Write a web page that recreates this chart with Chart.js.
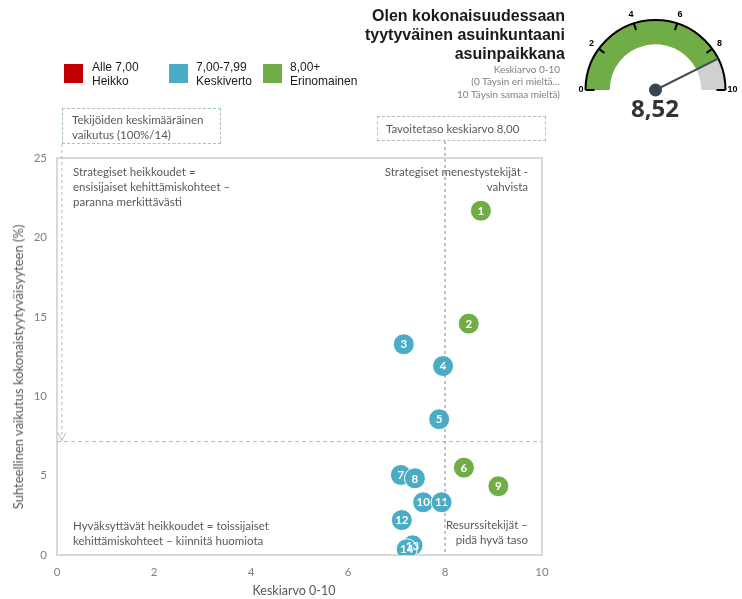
<!DOCTYPE html>
<html><head><meta charset="utf-8">
<script src="https://cdn.jsdelivr.net/npm/chart.js@4/dist/chart.umd.min.js"></script>
<style>
html,body{margin:0;padding:0;background:#fff;}
#wrap{position:relative;width:742px;height:599px;overflow:hidden;}
#main{position:absolute;left:0;top:0;}
#gauge{position:absolute;left:569px;top:0;}
.t{position:absolute;white-space:pre;}
.q{font-family:Lato,'Open Sans',sans-serif;font-size:11.5px;color:#595959;line-height:15px;}
.title{font-family:'Liberation Sans',Arial,sans-serif;font-weight:bold;font-size:16px;line-height:19px;color:#1a1a1a;text-align:right;}
.sub{font-family:Lato,sans-serif;font-size:10px;line-height:12.5px;color:#7f7f7f;text-align:right;}
.leg{font-family:'Liberation Sans',Arial,sans-serif;font-size:12px;line-height:14px;color:#1a1a1a;}
.sq{position:absolute;width:19px;height:19px;}
.box{position:absolute;border:1px dashed #a9c0ca;box-sizing:border-box;}
.ax{font-family:Lato,sans-serif;font-size:12.5px;color:#595959;}
</style></head>
<body>
<div id="wrap">
<canvas id="main" width="742" height="599"></canvas>
<canvas id="gauge" width="173" height="130"></canvas>

<div class="t title" style="right:177px;top:5.5px;">Olen kokonaisuudessaan
tyytyväinen asuinkuntaani
asuinpaikkana</div>
<div class="t sub" style="right:182px;top:62.75px;">Keskiarvo 0-10
(0 Täysin eri mieltä…
10 Täysin samaa mieltä)</div>

<div class="sq" style="left:64px;top:64px;background:#c00000;"></div>
<div class="t leg" style="left:92px;top:60px;">Alle 7,00
Heikko</div>
<div class="sq" style="left:169px;top:64px;background:#4bacc6;"></div>
<div class="t leg" style="left:196px;top:60px;">7,00-7,99
Keskiverto</div>
<div class="sq" style="left:263px;top:64px;background:#70ad47;"></div>
<div class="t leg" style="left:290px;top:60px;">8,00+
Erinomainen</div>

<div class="box" style="left:62px;top:108px;width:159px;height:36px;"></div>
<div class="t q" style="left:72px;top:111.5px;">Tekijöiden keskimääräinen
vaikutus (100%/14)</div>
<div class="box" style="left:377px;top:116px;width:169px;height:25px;"></div>
<div class="t q" style="left:386px;top:120.5px;">Tavoitetaso keskiarvo 8,00</div>

<div class="t q" style="left:73px;top:163.5px;">Strategiset heikkoudet =
ensisijaiset kehittämiskohteet –
paranna merkittävästi</div>
<div class="t q" style="right:214px;top:163.5px;text-align:right;">Strategiset menestystekijät -
vahvista</div>
<div class="t q" style="left:73px;top:517.5px;">Hyväksyttävät heikkoudet = toissijaiset
kehittämiskohteet – kiinnitä huomiota</div>
<div class="t q" style="right:214px;top:517px;text-align:right;">Resurssitekijät –
pidä hyvä taso</div>

<div class="t ax" style="left:294px;top:590px;transform:translate(-50%,-50%);">Keskiarvo 0-10</div>
<div class="t ax" style="left:18px;top:367px;font-size:13px;transform:translate(-50%,-50%) rotate(-90deg);">Suhteellinen vaikutus kokonaistyytyväisyyteen (%)</div>

<div class="t" id="gval" style="left:655px;top:108px;transform:translate(-50%,-50%);font-family:'Open Sans',sans-serif;font-weight:bold;font-size:24px;line-height:1;color:#333;">8,52</div>
</div>
<script>
// ---- data ----
const pointLabels = ['1','2','3','4','5','6','7','8','9','10','11','12','13','14'];
const meanScores = [8.74, 8.49, 7.15, 7.96, 7.88, 8.39, 7.09, 7.38, 9.10, 7.55, 7.93, 7.11, 7.33, 7.21];
const impacts    = [21.68, 14.57, 13.27, 11.90, 8.55, 5.50, 5.04, 4.83, 4.33, 3.32, 3.32, 2.20, 0.61, 0.36];
const xTicks = [0, 2, 4, 6, 8, 10];
const yTicks = [0, 5, 10, 15, 20, 25];
const targetScore = 8.00;
const avgImpact = 7.14;
const gaugeValue = 8.52;
const gaugeTicks = [0, 2, 4, 6, 8, 10];

const categoryColors = ['#c00000', '#4bacc6', '#70ad47'];
function colorFor(v){ return v < 7 ? categoryColors[0] : (v < 8 ? categoryColors[1] : categoryColors[2]); }

const overlay = {
  id: 'overlay',
  beforeDatasetsDraw(chart){
    const {ctx, chartArea:a} = chart;
    ctx.save();
    ctx.strokeStyle = '#d9d9d9'; ctx.lineWidth = 2;
    ctx.strokeRect(a.left, a.top, a.right - a.left, a.bottom - a.top);
    ctx.restore();
  },
  afterDatasetsDraw(chart){
    const {ctx, chartArea:a, scales:{x, y}} = chart;
    const meta = chart.getDatasetMeta(0);
    ctx.save();
    ctx.fillStyle = '#ffffff';
    ctx.font = 'bold 11.5px Lato, sans-serif';
    ctx.textAlign = 'center'; ctx.textBaseline = 'middle';
    meta.data.forEach((pt, i) => {
      ctx.fillText(pointLabels[i], pt.x, pt.y + 0.5);
    });
    const yAvg = y.getPixelForValue(avgImpact);
    const xT = x.getPixelForValue(targetScore);
    ctx.lineWidth = 1;
    ctx.setLineDash([4, 3]);
    ctx.strokeStyle = '#b8b8b8';
    ctx.beginPath(); ctx.moveTo(a.left, yAvg); ctx.lineTo(a.right, yAvg); ctx.stroke();
    ctx.setLineDash([3, 3]);
    ctx.strokeStyle = '#8a8a8a';
    ctx.beginPath(); ctx.moveTo(xT, 141); ctx.lineTo(xT, a.bottom); ctx.stroke();
    const xA = x.getPixelForValue(0.1);
    ctx.strokeStyle = '#a9c2cc';
    ctx.beginPath(); ctx.moveTo(xA, 144); ctx.lineTo(xA, yAvg - 1); ctx.stroke();
    ctx.setLineDash([]);
    ctx.beginPath(); ctx.moveTo(xA - 4, yAvg - 9); ctx.lineTo(xA, yAvg - 1); ctx.lineTo(xA + 4, yAvg - 9); ctx.stroke();
    ctx.restore();
  }
};

new Chart(document.getElementById('main'), {
  type: 'scatter',
  data: {
    datasets: [{
      data: meanScores.map((v, i) => ({x: v, y: impacts[i]})),
      backgroundColor: meanScores.map(colorFor),
      borderColor: '#ffffff',
      borderWidth: 1,
      pointRadius: 10.5,
      pointHoverRadius: 10.5
    }]
  },
  options: {
    responsive: false, animation: false,
    layout: {padding: {left: 0, right: 200, top: 158, bottom: 0}},
    plugins: {legend: {display: false}, tooltip: {enabled: false}},
    scales: {
      x: {
        type: 'linear', min: xTicks[0], max: xTicks[xTicks.length - 1],
        afterBuildTicks: s => { s.ticks = xTicks.map(v => ({value: v})); },
        ticks: {color: '#808080', font: {family: 'Lato', size: 11.5}, padding: 10},
        grid: {display: false, drawTicks: false},
        border: {display: false},
        afterFit: s => { s.height = 44; }
      },
      y: {
        type: 'linear', min: yTicks[0], max: yTicks[yTicks.length - 1],
        afterBuildTicks: s => { s.ticks = yTicks.map(v => ({value: v})); },
        ticks: {color: '#808080', font: {family: 'Lato', size: 11.5}, padding: 10},
        grid: {display: false, drawTicks: false},
        border: {display: false},
        afterFit: s => { s.width = 57; }
      }
    }
  },
  plugins: [overlay]
});

const gaugeDeco = {
  id: 'gaugeDeco',
  afterDatasetsDraw(chart){
    const {ctx} = chart;
    const arc = chart.getDatasetMeta(0).data[0];
    const cx = arc.x, cy = arc.y, r = arc.outerRadius;
    const maxV = gaugeTicks[gaugeTicks.length - 1];
    ctx.save();
    ctx.strokeStyle = '#000'; ctx.lineWidth = 2;
    ctx.beginPath(); ctx.arc(cx, cy, r, Math.PI, 2 * Math.PI); ctx.stroke();
    ctx.font = 'bold 9px "Liberation Sans", Arial, sans-serif';
    ctx.fillStyle = '#000';
    ctx.textBaseline = 'middle';
    gaugeTicks.forEach((v, i) => {
      const ang = Math.PI + (v / maxV) * Math.PI;
      const c = Math.cos(ang), s = Math.sin(ang);
      const inner = (i === 0 || i === gaugeTicks.length - 1) ? r - 9 : r - 7;
      ctx.beginPath(); ctx.moveTo(cx + c * inner, cy + s * inner); ctx.lineTo(cx + c * r, cy + s * r); ctx.stroke();
      if (i === 0) { ctx.textAlign = 'right'; ctx.fillText(String(v), cx - r - 2, cy); }
      else if (i === gaugeTicks.length - 1) { ctx.textAlign = 'left'; ctx.fillText(String(v), cx + r + 2, cy); }
      else { ctx.textAlign = 'center'; ctx.fillText(String(v), cx + c * (r + 9), cy + s * (r + 9)); }
    });
    const a = Math.PI + (gaugeValue / maxV) * Math.PI;
    ctx.strokeStyle = '#3c4f58'; ctx.lineWidth = 2;
    ctx.beginPath(); ctx.moveTo(cx, cy); ctx.lineTo(cx + Math.cos(a) * r, cy + Math.sin(a) * r); ctx.stroke();
    ctx.fillStyle = '#37474f';
    ctx.beginPath(); ctx.arc(cx, cy, 6.5, 0, 2 * Math.PI); ctx.fill();
    ctx.restore();
  }
};

new Chart(document.getElementById('gauge'), {
  type: 'doughnut',
  data: {
    datasets: [{
      data: [gaugeValue, gaugeTicks[gaugeTicks.length - 1] - gaugeValue],
      backgroundColor: ['#70ad47', '#d0d0d0'],
      borderWidth: 0
    }]
  },
  options: {
    responsive: false, animation: false,
    rotation: -90, circumference: 180,
    radius: 70, cutout: 36,
    layout: {padding: {bottom: 20}},
    plugins: {legend: {display: false}, tooltip: {enabled: false}}
  },
  plugins: [gaugeDeco]
});
</script>
</body></html>
